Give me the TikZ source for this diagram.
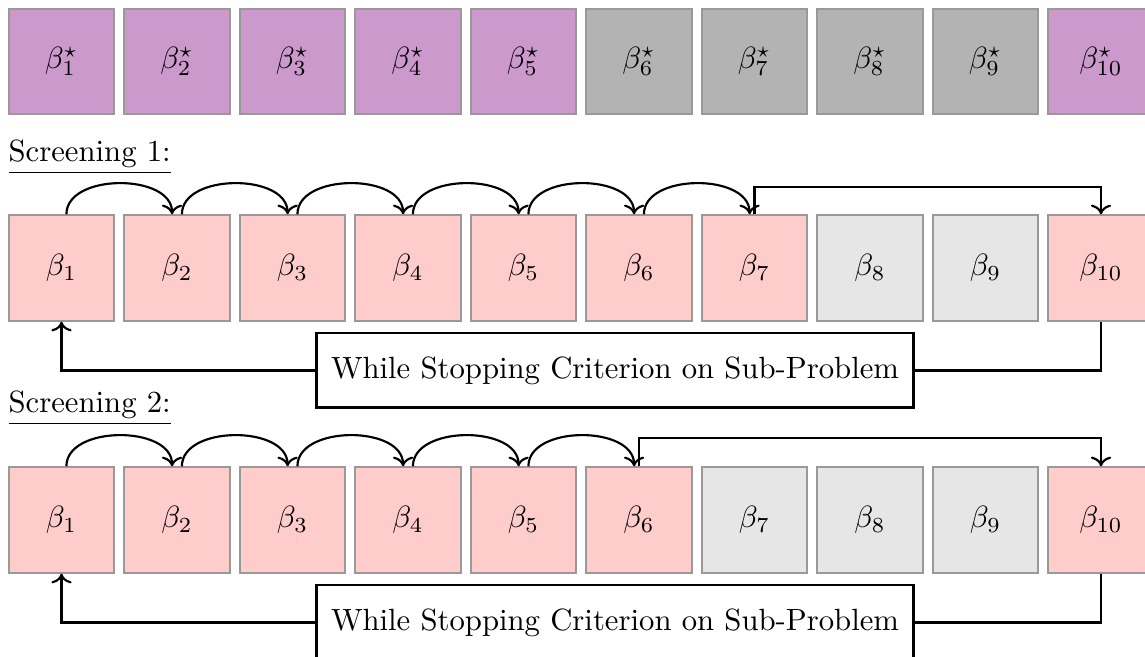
\documentclass[tikz,border=0pt]{standalone}
\usetikzlibrary{arrows.meta}
\definecolor{cpurple}{RGB}{204,153,204}
\definecolor{cgray}{RGB}{179,179,179}
\definecolor{cpink}{RGB}{255,204,204}
\definecolor{clight}{RGB}{230,230,230}
\definecolor{cborder}{RGB}{153,153,153}
\begin{document}
\begin{tikzpicture}[x=0.3257pt,y=-0.3257pt,
  cell/.style={draw=cborder,line width=0.6pt,minimum width=34.4pt,minimum height=34.4pt,inner sep=0pt},
  purp/.style={cell,fill=cpurple},
  grey/.style={cell,fill=cgray},
  pink/.style={cell,fill=cpink},
  lgrey/.style={cell,fill=clight},
  conn/.style={line width=0.7pt,black},
  wbox/.style={draw=black,line width=0.75pt,fill=white,minimum width=194.5pt,minimum height=24.2pt,inner sep=0pt},
  lbl/.style={anchor=base west,inner sep=0pt}]
\useasboundingbox (0,0) rectangle (1145,657);
% row 1
\foreach \k/\s in {1/purp,2/purp,3/purp,4/purp,5/purp,6/grey,7/grey,8/grey,9/grey,10/purp}{
  \node[\s] (a\k) at ({61.5+(\k-1)*115.5},61.5) {$\beta^\star_{\k}$};
}
% screening 1
\node[lbl] (s1) at (8,162) {\underline{Screening 1:}};
\foreach \k/\s in {1/pink,2/pink,3/pink,4/pink,5/pink,6/pink,7/pink,8/lgrey,9/lgrey,10/pink}{
  \node[\s] (b\k) at ({61.5+(\k-1)*115.5},268) {$\beta_{\k}$};
}
\foreach \i/\j in {1/2,2/3,3/4,4/5,5/6,6/7}{
  \draw[conn,->] ([xshift=1.6pt]b\i.north) to[out=90,in=90] ([xshift=-1.6pt]b\j.north);
}
\draw[conn,->] (b7.north) -- ++(0,-27) -| (b10.north);
\node[wbox] (w1) at (615,370.5) {While Stopping Criterion on Sub-Problem};
\draw[conn] (b10.south) |- (w1.east);
\draw[conn,->] (w1.west) -| (b1.south);
% screening 2
\node[lbl] (s2) at (8,413) {\underline{Screening 2:}};
\foreach \k/\s in {1/pink,2/pink,3/pink,4/pink,5/pink,6/pink,7/lgrey,8/lgrey,9/lgrey,10/pink}{
  \node[\s] (c\k) at ({61.5+(\k-1)*115.5},520) {$\beta_{\k}$};
}
\foreach \i/\j in {1/2,2/3,3/4,4/5,5/6}{
  \draw[conn,->] ([xshift=1.6pt]c\i.north) to[out=90,in=90] ([xshift=-1.6pt]c\j.north);
}
\draw[conn,->] (c6.north) -- ++(0,-28) -| (c10.north);
\node[wbox] (w2) at (615,622.5) {While Stopping Criterion on Sub-Problem};
\draw[conn] (c10.south) |- (w2.east);
\draw[conn,->] (w2.west) -| (c1.south);
\end{tikzpicture}
\end{document}
